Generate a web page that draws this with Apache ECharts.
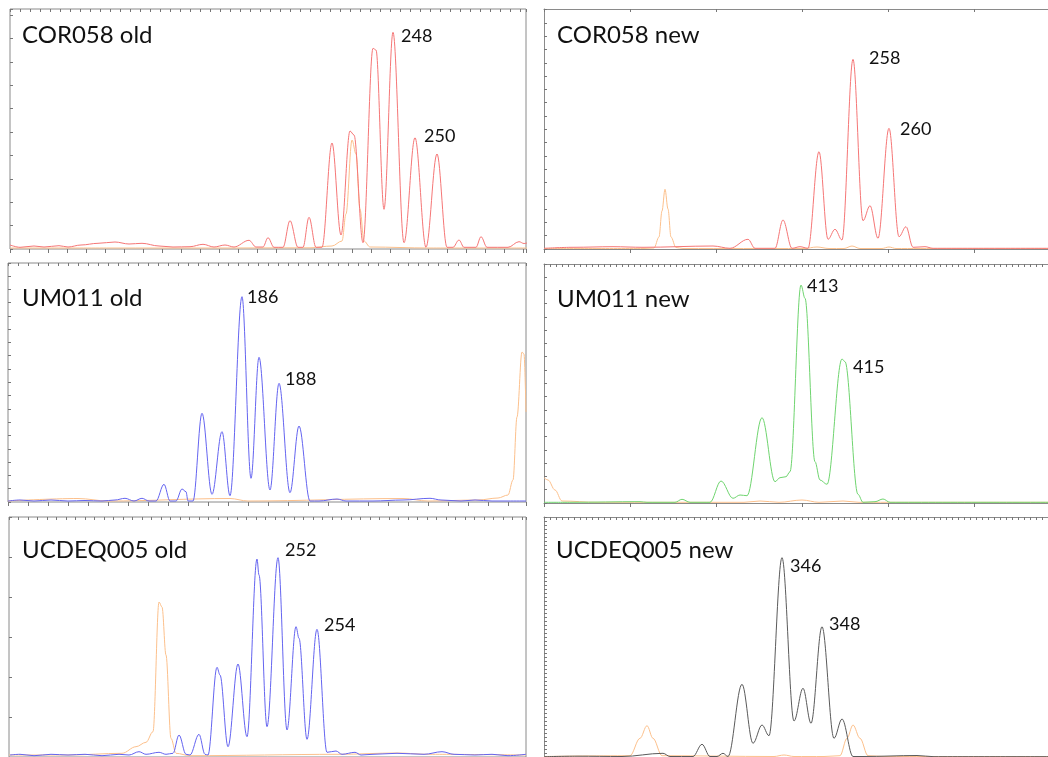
<!DOCTYPE html>
<html>
<head>
<meta charset="utf-8">
<script src="https://cdn.jsdelivr.net/npm/echarts@6/dist/echarts.min.js"></script>
<style>
html,body{margin:0;padding:0;background:#fff;}
#chart{width:1048px;height:757px;}
</style>
</head>
<body>
<div id="chart"></div>
<script>
// Panel titles and peak (allele) labels
const panelTitles = ['COR058 old', 'COR058 new', 'UM011 old', 'UM011 new', 'UCDEQ005 old', 'UCDEQ005 new'];
const peakLabels = [['248', '250'], ['258', '260'], ['186', '188'], ['413', '415'], ['252', '254'], ['346', '348']];

// Trace vertices: [scan position, intensity]
const p1Red = [[0,4],[10,1.7],[24,3],[34,2],[49,3.3],[58,2],[71,4],[88,5.7],[105,7],[119,5],[132,5.7],[149,3],[163,2],[180,2.3],[193,4.7],[204,2],[215,4],[224,2],[239,8.7],[246,2],[253,2],[258,11.3],[264,1.7],[273,1.7],[280,28.3],[288,1.7],[293,1.7],[299,31.7],[306,1.7],[312,1.7],[322,106],[331,14],[340,118],[344,114],[353,6.3],[363,200.7],[366,199],[374,39.7],[383,216.7],[394,6.3],[405,111.3],[416,1.7],[427,95],[437,1.7],[443,1.7],[449,9],[454,1.7],[466,1.7],[471,12.3],[477,1.7],[498,1.7],[509,7.3],[514,5.5],[517,6]];
const p1Orange = [[0,1],[100,1],[200,1],[300,1.2],[322,3],[332,8],[336,35],[342,109],[346,95],[350,40],[354,8],[360,2],[420,1],[517,1]];

const p2Red = [[0,0.7],[29,1.7],[69,2.3],[99,1.7],[169,3],[186,0.7],[204,9.7],[211,0.7],[219,0.7],[231,0.7],[239,29],[248,0.7],[256,2.3],[264,0.7],[275,97.3],[284,9.7],[291,19.7],[298,9],[309,189.7],[319,28.3],[326,43.3],[334,10.7],[345,120.7],[355,12.3],[362,22.3],[369,1.7],[381,2.3],[389,0.7],[520,0.7]];
const p2Orange = [[0,0.5],[100,0.5],[110,1],[115,12],[118,38],[121,59.7],[124,40],[127,12],[132,1.5],[139,0.5],[260,0.5],[273,2],[285,0.5],[300,0.5],[308,3],[316,0.5],[338,0.5],[345,2],[352,0.5],[520,0.5]];

const p3Blue = [[0,1],[12,2],[26,1],[43,2],[60,1],[77,1.5],[94,1],[107,2],[117,3.7],[126,1],[134,3.7],[141,1],[148,1],[156,17.7],[162,1],[168,1],[174,13],[178,10.3],[180,1],[185,1],[194,88.7],[204,7.7],[214,70.3],[222,6.3],[234,205.3],[243,23.7],[251,144.7],[262,12],[271,118.7],[282,9.3],[291,76],[302,1],[311,1],[329,3],[338,1],[365,1],[395,2],[422,3.7],[433,2],[453,1],[467,2],[484,1],[500,1],[518,1]];
const p3Orange = [[0,1],[70,3.5],[100,1],[222,3.5],[240,1],[395,3.5],[420,1],[470,2],[490,4],[500,7],[505,22],[509,85],[514,150],[516,148],[518,90]];

const p4Green = [[0,0.7],[27,0.7],[96,1.3],[103,0.7],[131,0.7],[138,3.7],[146,0.7],[166,0.7],[177,22],[189,4.7],[196,8],[203,7.3],[218,85.3],[231,21.3],[236,25.3],[242,26.3],[246,31.3],[257,218],[261,204.7],[271,41.3],[276,23],[283,18.7],[298,144],[301,141.3],[314,8.7],[319,0.7],[331,1.3],[339,4],[346,0.7],[520,0.7]];
const p4Orange = [[0,25.3],[4,23],[11,13],[18,2],[53,0.7],[200,0.7],[216,2],[235,0.7],[258,3],[275,0.7],[299,2],[315,0.7],[520,0.7]];

const p5Blue = [[1,2],[11,2.7],[25,1.3],[42,2.7],[59,2],[76,2.7],[93,1.3],[110,2.7],[120,2],[130,5.3],[137,2.7],[150,4.7],[157,2.7],[164,3.7],[170,22],[177,2.7],[181,2],[190,22.7],[196,2.7],[199,2],[208,89.7],[211,82],[219,10.3],[229,93],[238,20.3],[248,198],[250,182],[258,30.3],[269,199.3],[278,27],[287,130.3],[290,118.7],[298,17.7],[308,127.7],[318,4.7],[327,6],[333,2.7],[346,4.7],[352,2],[364,2.7],[388,3.7],[415,2.7],[433,5.3],[445,2.7],[466,2],[483,2.7],[499,1.3],[517,2.7]];
const p5Orange = [[0,2],[60,2],[113,3.7],[127,10.3],[137,14.7],[144,25.3],[150,155],[153,150],[157,102],[162,18.7],[167,3.7],[181,1.3],[330,2.7],[388,4],[420,2.7],[517,2]];

const p6Gray = [[0,0.3],[33,0.8],[78,0.5],[119,3.7],[126,0.5],[149,0.5],[158,12.7],[166,0.5],[173,0.5],[179,3.7],[184,0.5],[198,72.7],[209,13.7],[218,32],[225,21.3],[238,199.3],[250,36],[259,68.7],[267,33.7],[278,130.3],[290,18.7],[298,38],[309,0.5],[319,0.5],[373,1.5],[390,0.3],[520,0.3]];
const p6Orange = [[0,0.5],[86,1.3],[96,18.7],[103,31.3],[109,18.7],[118,1.3],[230,0.5],[240,2],[250,0.5],[280,0.5],[296,1.3],[303,18.7],[309,32],[316,18.7],[324,1.3],[340,0.5],[520,0.5]];

// Layout (pixels) and styling; right-hand panels run off the right edge (no right border)
const panels = [
  {grid:{left:10, top:9, width:516, height:240}, frame:true, topInt:10, leftInt:23.4, botInt:19, traces:[[p1Orange,'#fcc08c'],[p1Red,'#f57676']],
   title:[22,35], peaks:[[401,36],[424,136]]},
  {grid:{left:544, top:9, width:504, height:240}, frame:false, topInt:86, leftInt:13.3, botInt:86, traces:[[p2Orange,'#fcc08c'],[p2Red,'#f57676']],
   title:[557,35], peaks:[[869,58],[900,129]]},
  {grid:{left:8, top:263, width:518, height:239}, frame:true, topInt:10, leftInt:13.3, botInt:20, traces:[[p3Orange,'#fcc08c'],[p3Blue,'#6464f0']],
   title:[22,298], peaks:[[247,297],[285,379]]},
  {grid:{left:544, top:264, width:504, height:239}, frame:false, topInt:6, leftInt:13.3, botInt:86, traces:[[p4Orange,'#fcc08c'],[p4Green,'#6fd46f']],
   title:[557,299], peaks:[[807,286],[853,367]]},
  {grid:{left:9, top:517, width:517, height:240}, frame:true, topInt:9.5, leftInt:40, botInt:20, traces:[[p5Orange,'#fcc08c'],[p5Blue,'#6464f0']],
   title:[22,550], peaks:[[285,550],[324,625]]},
  {grid:{left:544, top:517, width:504, height:240}, frame:false, topInt:6, leftInt:4, botInt:20, traces:[[p6Orange,'#fcc08c'],[p6Gray,'#5a5a5a']],
   title:[556,550], peaks:[[790,566],[829,624]]}
];

const tickColor = '#777';
const frameColor = '#8a8a8a';
const option = {animation:false, backgroundColor:'#fff', grid:[], xAxis:[], yAxis:[], series:[], graphic:[]};

panels.forEach((p, i) => {
  option.grid.push(Object.assign({show:p.frame, borderColor:frameColor, borderWidth:1, backgroundColor:'transparent'}, p.grid));
  const lineShow = !p.frame;
  // bottom axis
  option.xAxis.push({type:'value', gridIndex:i, min:0, max:p.grid.width, interval:p.botInt, position:'bottom',
    axisLine:{show:lineShow, lineStyle:{color:frameColor, width:1}}, axisTick:{show:true, inside:false, length:4, lineStyle:{color:tickColor}},
    axisLabel:{show:false}, splitLine:{show:false}});
  // top axis (ticks only)
  option.xAxis.push({type:'value', gridIndex:i, min:0, max:p.grid.width, interval:p.topInt, position:'top',
    axisLine:{show:lineShow, lineStyle:{color:frameColor, width:1}}, axisTick:{show:true, inside:true, length:3, lineStyle:{color:tickColor}},
    axisLabel:{show:false}, splitLine:{show:false}});
  option.yAxis.push({type:'value', gridIndex:i, min:0, max:p.grid.height, interval:p.leftInt,
    axisLine:{show:lineShow, lineStyle:{color:frameColor, width:1}}, axisTick:{show:true, inside:true, length:3, lineStyle:{color:tickColor}},
    axisLabel:{show:false}, splitLine:{show:false}});
  p.traces.forEach(([data, color]) => {
    option.series.push({type:'line', xAxisIndex:i*2, yAxisIndex:i, data:data, showSymbol:false, symbol:'none',
      smooth:0.35, smoothMonotone:'x', lineStyle:{color:color, width:1}, silent:true});
  });
  option.graphic.push({type:'text', x:p.title[0], y:p.title[1],
    style:{text:panelTitles[i], font:'24px Lato', fill:'#111', verticalAlign:'middle', align:'left'}});
  p.peaks.forEach((pos, k) => {
    option.graphic.push({type:'text', x:pos[0], y:pos[1],
      style:{text:peakLabels[i][k], font:'18px Lato', fill:'#111', verticalAlign:'middle', align:'left'}});
  });
});

const chart = echarts.init(document.getElementById('chart'), null, {renderer:'canvas'});
chart.setOption(option);
</script>
</body>
</html>
